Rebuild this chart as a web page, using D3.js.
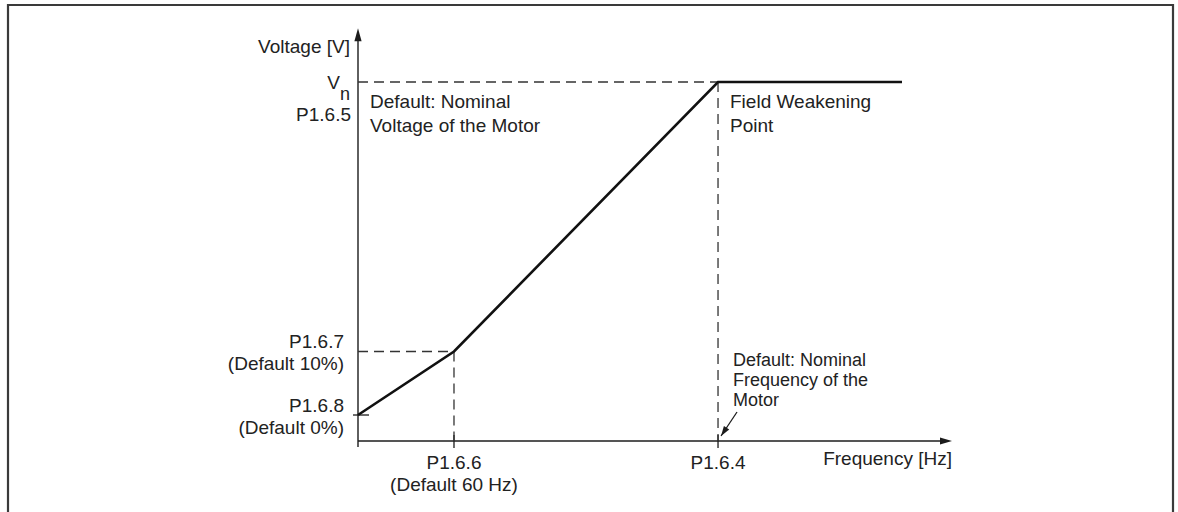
<!DOCTYPE html>
<html>
<head>
<meta charset="utf-8">
<script src="https://cdn.jsdelivr.net/npm/d3@7"></script>
<style>
  html, body { margin: 0; padding: 0; background: #fff; }
  svg { display: block; }
  text { font-family: "Liberation Sans", Arial, sans-serif; fill: #222; }
</style>
</head>
<body>
<svg id="chart" width="1178" height="512"></svg>
<script>
// V/f curve: relative frequency (0..1 of axis length) and relative voltage (1 = Vn)
const curveFreq = [0, 0.1616, 0.6061, 0.9158];
const curveVolt = [0.0724, 0.2493, 1, 1];

// Reference levels on the axes
const zeroVoltLevel = 0.0724;   // P1.6.8
const midVoltLevel = 0.2493;    // P1.6.7
const nominalVoltLevel = 1;     // P1.6.5 (Vn)
const midFreq = 0.1616;         // P1.6.6
const weakeningFreq = 0.6061;   // P1.6.4

const yLabelsMid = ["P1.6.7", "(Default 10%)"];
const yLabelsZero = ["P1.6.8", "(Default 0%)"];
const xLabelsMid = ["P1.6.6", "(Default 60 Hz)"];
const xLabelWeakening = ["P1.6.4"];
const noteVoltage = ["Default: Nominal", "Voltage of the Motor"];
const noteWeakening = ["Field Weakening", "Point"];
const noteFrequency = ["Default: Nominal", "Frequency of the", "Motor"];

const svg = d3.select("#chart");

const x = d3.scaleLinear().domain([0, 1]).range([358, 952]);
const y = d3.scaleLinear().domain([0, 1]).range([441, 82]);

const ink = "#1c1c1c";

// frame
svg.append("path")
  .attr("d", "M8,520 L8,5 L1173,5 L1173,520")
  .attr("fill", "none").attr("stroke", "#3a3a3a").attr("stroke-width", 2.2);

// axes
svg.append("line")
  .attr("x1", x(0)).attr("y1", y(0) + 6)
  .attr("x2", x(0)).attr("y2", y(1.12))
  .attr("stroke", ink).attr("stroke-width", 1.4);
svg.append("line")
  .attr("x1", x(0)).attr("y1", y(0))
  .attr("x2", x(0.985)).attr("y2", y(0))
  .attr("stroke", ink).attr("stroke-width", 1.4);

// axis arrowheads
const yTip = y(1.15);
svg.append("path")
  .attr("d", `M${x(0)},${yTip} L${x(0) - 3.6},${yTip + 13} L${x(0) + 3.6},${yTip + 13} Z`)
  .attr("fill", ink);
const xTip = x(1);
svg.append("path")
  .attr("d", `M${xTip},${y(0)} L${xTip - 12},${y(0) - 3.6} L${xTip - 12},${y(0) + 3.6} Z`)
  .attr("fill", ink);

// ticks
svg.append("line")
  .attr("x1", x(0) - 5).attr("x2", x(0) + 11)
  .attr("y1", y(zeroVoltLevel)).attr("y2", y(zeroVoltLevel))
  .attr("stroke", ink).attr("stroke-width", 1.3);
[midFreq, weakeningFreq].forEach(f => {
  svg.append("line")
    .attr("x1", x(f)).attr("x2", x(f))
    .attr("y1", y(0) - 6).attr("y2", y(0) + 7)
    .attr("stroke", ink).attr("stroke-width", 1.3);
});

// dashed guide lines
const dash = "10,6";
const guides = [
  [x(0), y(nominalVoltLevel), x(weakeningFreq), y(nominalVoltLevel)],
  [x(0), y(midVoltLevel), x(midFreq), y(midVoltLevel)],
  [x(midFreq), y(midVoltLevel), x(midFreq), y(0)],
  [x(weakeningFreq), y(nominalVoltLevel), x(weakeningFreq), y(0)]
];
svg.selectAll("line.guide").data(guides).enter().append("line")
  .attr("class", "guide")
  .attr("x1", d => d[0]).attr("y1", d => d[1])
  .attr("x2", d => d[2]).attr("y2", d => d[3])
  .attr("stroke", "#333").attr("stroke-width", 1.3)
  .attr("stroke-dasharray", dash);

// V/f curve
const pts = curveFreq.map((f, i) => [f, curveVolt[i]]);
svg.append("path")
  .datum(pts)
  .attr("d", d3.line().x(d => x(d[0])).y(d => y(d[1])))
  .attr("fill", "none").attr("stroke", "#111").attr("stroke-width", 2.6)
  .attr("stroke-linejoin", "miter");

// text helper
function lines(arr, xPos, yBase, step, anchor, size) {
  const t = svg.append("text")
    .attr("text-anchor", anchor)
    .style("font-size", size + "px");
  arr.forEach((s, i) => {
    t.append("tspan").attr("x", xPos).attr("y", yBase + i * step).text(s);
  });
  return t;
}

const fs = 19;

// y-axis title
lines(["Voltage [V]"], x(0) - 8, 53, 0, "end", fs);

// Vn
const vn = svg.append("text").attr("text-anchor", "end").style("font-size", fs + "px")
  .attr("x", x(0) - 8).attr("y", y(nominalVoltLevel) + 7);
vn.append("tspan").text("V");
vn.append("tspan").attr("dy", 11).style("font-size", "18px").text("n");
lines(["P1.6.5"], x(0) - 7, y(nominalVoltLevel) + 39, 0, "end", fs);

lines(noteVoltage, x(0) + 12, y(nominalVoltLevel) + 26, 24, "start", fs);
lines(noteWeakening, x(weakeningFreq) + 12, y(nominalVoltLevel) + 26, 24, "start", fs);

// y-axis level labels
lines(yLabelsMid, x(0) - 14, y(midVoltLevel) - 4, 22, "end", fs);
lines(yLabelsZero, x(0) - 14, y(zeroVoltLevel) - 3, 22, "end", fs);

// x-axis labels
lines(xLabelsMid, x(midFreq), y(0) + 28, 22, "middle", fs);
lines(xLabelWeakening, x(weakeningFreq), y(0) + 28, 0, "middle", fs);
lines(["Frequency [Hz]"], x(1), y(0) + 24, 0, "end", fs);

// nominal frequency note with pointer
lines(noteFrequency, x(weakeningFreq) + 15, 366, 20, "start", 18);
const ax0 = x(weakeningFreq) + 19, ay0 = 412;
const ax1 = x(weakeningFreq) + 3, ay1 = y(0) - 5;
svg.append("line")
  .attr("x1", ax0).attr("y1", ay0).attr("x2", ax1).attr("y2", ay1)
  .attr("stroke", ink).attr("stroke-width", 1.3);
const ang = Math.atan2(ay1 - ay0, ax1 - ax0);
const hl = 10, hw = 3.2;
const bx = ax1 - hl * Math.cos(ang), by = ay1 - hl * Math.sin(ang);
svg.append("path")
  .attr("d", `M${ax1},${ay1} L${bx + hw * Math.sin(ang)},${by - hw * Math.cos(ang)} L${bx - hw * Math.sin(ang)},${by + hw * Math.cos(ang)} Z`)
  .attr("fill", ink);
</script>
</body>
</html>
